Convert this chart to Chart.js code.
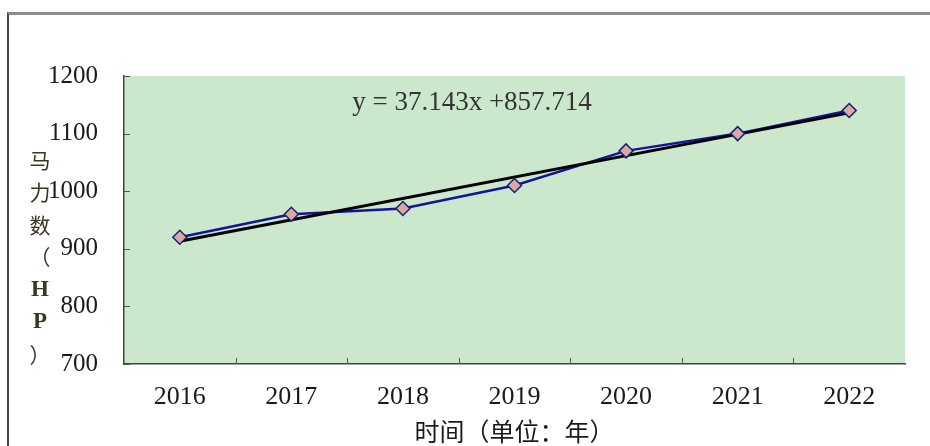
<!DOCTYPE html>
<html>
<head>
<meta charset="utf-8">
<script src="https://cdn.jsdelivr.net/npm/chart.js@4.4.1/dist/chart.umd.min.js"></script>
<style>
  html, body { margin: 0; padding: 0; background: #fff; }
  #wrap { position: relative; width: 930px; height: 446px; overflow: hidden; }
  #frame { position: absolute; left: 7px; top: 12px; width: 960px; height: 460px;
           border-top: 3px solid #8c8c8c; border-left: 2px solid #4a4a4a; }
  canvas { position: absolute; left: 0; top: 0; }
</style>
</head>
<body>
<div id="wrap">
  <div id="frame"></div>
  <canvas id="chart" width="930" height="446"></canvas>
</div>
<script>
// values
const years = ['2016', '2017', '2018', '2019', '2020', '2021', '2022'];
const horsepower = [920, 960, 970, 1010, 1070, 1100, 1140];
// trend line end points
const trend = [913, null, null, null, null, null, 1136];
const equation = 'y = 37.143x +857.714';
const xTitle = '时间（单位：年）';
const yTitle = '马力数（HP）';

const serif = '"Liberation Serif", "Times New Roman", serif';
const cjk = '"Noto Sans CJK SC", "Liberation Serif", serif';

const plotBg = {
  id: 'plotBg',
  beforeDraw(chart) {
    const { ctx, chartArea: a } = chart;
    ctx.save();
    ctx.fillStyle = '#cbe8cc';
    ctx.fillRect(a.left, a.top, a.right - a.left, a.bottom - a.top);
    ctx.restore();
  },
  afterDraw(chart) {
    const { ctx, chartArea: a, scales } = chart;
    ctx.save();
    // inward tick marks
    ctx.strokeStyle = '#555';
    ctx.lineWidth = 1;
    const y = scales.y;
    y.ticks.forEach(t => {
      const py = Math.round(y.getPixelForValue(t.value)) + 0.5;
      ctx.beginPath(); ctx.moveTo(a.left, py); ctx.lineTo(a.left + 6, py); ctx.stroke();
    });
    const x = scales.x;
    for (let i = 1; i < years.length; i++) {
      const px = Math.round((x.getPixelForValue(i - 1) + x.getPixelForValue(i)) / 2) + 0.5;
      ctx.beginPath(); ctx.moveTo(px, a.bottom); ctx.lineTo(px, a.bottom - 6); ctx.stroke();
    }
    // equation label
    ctx.fillStyle = '#333';
    ctx.font = '27px ' + serif;
    ctx.textAlign = 'center';
    ctx.textBaseline = 'middle';
    ctx.fillText(equation, 472, 103);
    // stacked y title, latin letters in bold serif
    ctx.fillStyle = '#3d3524';
    Array.from(yTitle).forEach((ch, i) => {
      ctx.font = /[A-Za-z]/.test(ch) ? 'bold 23px ' + serif : '21px ' + cjk;
      ctx.fillText(ch, 40, 160 + i * 32.5);
    });
    ctx.restore();
  }
};

new Chart(document.getElementById('chart'), {
  type: 'line',
  data: {
    labels: years,
    datasets: [
      {
        data: horsepower,
        showLine: false,
        pointStyle: 'rectRot',
        pointRadius: 7,
        pointBackgroundColor: '#d8a9a2',
        pointBorderColor: '#1c1f70',
        pointBorderWidth: 1.5
      },
      {
        data: trend,
        spanGaps: true,
        borderColor: '#000',
        borderWidth: 3,
        pointRadius: 0
      },
      {
        data: horsepower,
        borderColor: '#14149a',
        borderWidth: 2.5,
        pointRadius: 0
      }
    ]
  },
  options: {
    responsive: false,
    animation: false,
    devicePixelRatio: 1,
    layout: { padding: { left: 0, right: 25, top: 76, bottom: 0 } },
    plugins: { legend: { display: false }, tooltip: { enabled: false } },
    scales: {
      x: {
        offset: true,
        grid: { display: false, drawTicks: false },
        border: { display: true, color: '#444', width: 1.5 },
        ticks: { color: '#1a1a1a', font: { family: serif, size: 26 }, padding: 18 },
        title: { display: true, text: xTitle, color: '#1a1a1a',
                 font: { family: cjk, size: 25 }, padding: { top: 0, bottom: 0 } },
        afterFit: s => { s.height = 82; }
      },
      y: {
        min: 700, max: 1200,
        grid: { display: false, drawTicks: false },
        border: { display: true, color: '#444', width: 1.5 },
        ticks: { stepSize: 100, color: '#1a1a1a', font: { family: serif, size: 25 }, padding: 26,
                 callback: v => String(v) },
        afterFit: s => { s.width = 124; }
      }
    }
  },
  plugins: [plotBg]
});
</script>
</body>
</html>
